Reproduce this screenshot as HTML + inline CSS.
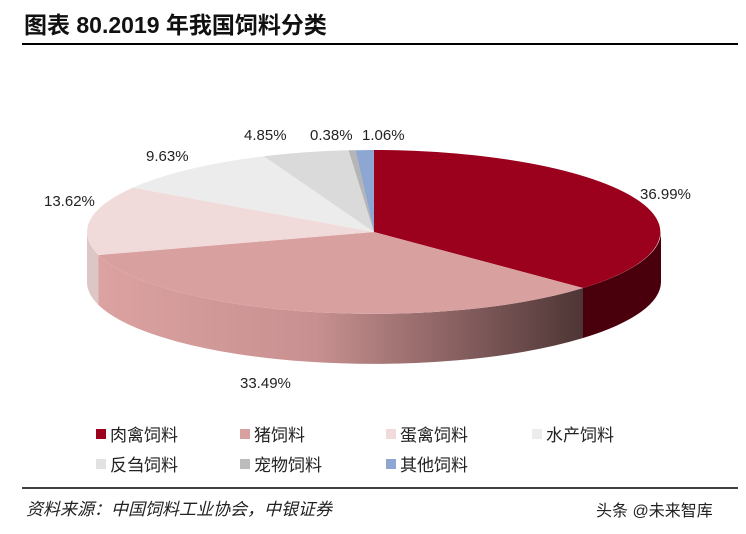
<!DOCTYPE html>
<html><head><meta charset="utf-8"><style>
body{margin:0;background:#fff;width:746px;height:534px;overflow:hidden;font-family:"Liberation Sans","Noto Sans CJK SC",sans-serif}
.t{position:absolute;left:24px;top:6px;font-size:23px;font-weight:bold;color:#111}
</style></head><body>
<div class="t">图表 80.2019 年我国饲料分类</div>
<svg width="746" height="534" style="position:absolute;left:0;top:0">
<line x1="22" y1="44" x2="738" y2="44" stroke="#000" stroke-width="2"/>
<defs><linearGradient id="g" x1="0" x2="1" y1="0" y2="0">
<stop offset="0" stop-color="#dca2a2"/><stop offset="0.45" stop-color="#c89090"/><stop offset="1" stop-color="#4e3535"/></linearGradient></defs>
<path d="M661,232 A287,82 0 0 1 583,288 L583,338 A287,82 0 0 0 661,282 Z" fill="#4a000c"/>
<path d="M583,288 A287,82 0 0 1 98.5,255 L98.5,305 A287,82 0 0 0 583,338 Z" fill="url(#g)"/>
<path d="M98.5,255 A287,82 0 0 1 87,232 L87,282 A287,82 0 0 0 98.5,305 Z" fill="#dcc6c6"/>
<path d="M374,232 L374,150 A287,82 0 0 1 583,288 Z" fill="#9b001c"/>
<path d="M374,232 L583,288 A287,82 0 0 1 98.5,255 Z" fill="#d9a0a0"/>
<path d="M374,232 L98.5,255 A287,82 0 0 1 132.9,187.6 Z" fill="#f1dada"/>
<path d="M374,232 L132.9,187.6 A287,82 0 0 1 263.8,156.3 Z" fill="#ececec"/>
<path d="M374,232 L263.8,156.3 A287,82 0 0 1 348.5,150.3 Z" fill="#dadada"/>
<path d="M374,232 L348.5,150.3 A287,82 0 0 1 355.5,150.2 Z" fill="#b5b5b5"/>
<path d="M374,232 L355.5,150.2 A287,82 0 0 1 374,150 Z" fill="#8ea6d2"/>
<g font-size="15" fill="#222" font-family="Liberation Sans,sans-serif">
<text x="640" y="199">36.99%</text>
<text x="240" y="388">33.49%</text>
<text x="44" y="206">13.62%</text>
<text x="146" y="161">9.63%</text>
<text x="244" y="140">4.85%</text>
<text x="310" y="140">0.38%</text>
<text x="362" y="140">1.06%</text>
</g>
<g font-size="17" fill="#222">
<rect x="96" y="429" width="10" height="10" fill="#9b001c"/><text x="110" y="441">肉禽饲料</text>
<rect x="240" y="429" width="10" height="10" fill="#d9a0a0"/><text x="254" y="441">猪饲料</text>
<rect x="386" y="429" width="10" height="10" fill="#f1dada"/><text x="400" y="441">蛋禽饲料</text>
<rect x="532" y="429" width="10" height="10" fill="#ececec"/><text x="546" y="441">水产饲料</text>
<rect x="96" y="459" width="10" height="10" fill="#e2e2e2"/><text x="110" y="471">反刍饲料</text>
<rect x="240" y="459" width="10" height="10" fill="#bcbcbc"/><text x="254" y="471">宠物饲料</text>
<rect x="386" y="459" width="10" height="10" fill="#8ea6d2"/><text x="400" y="471">其他饲料</text>
</g>
<line x1="22" y1="488" x2="738" y2="488" stroke="#000" stroke-width="1.5"/>
<text x="26" y="515" font-size="17" font-style="italic" fill="#222">资料来源：中国饲料工业协会，中银证券</text>
<text x="596" y="516" font-size="16" fill="#222">头条 @未来智库</text>
</svg>
</body></html>
